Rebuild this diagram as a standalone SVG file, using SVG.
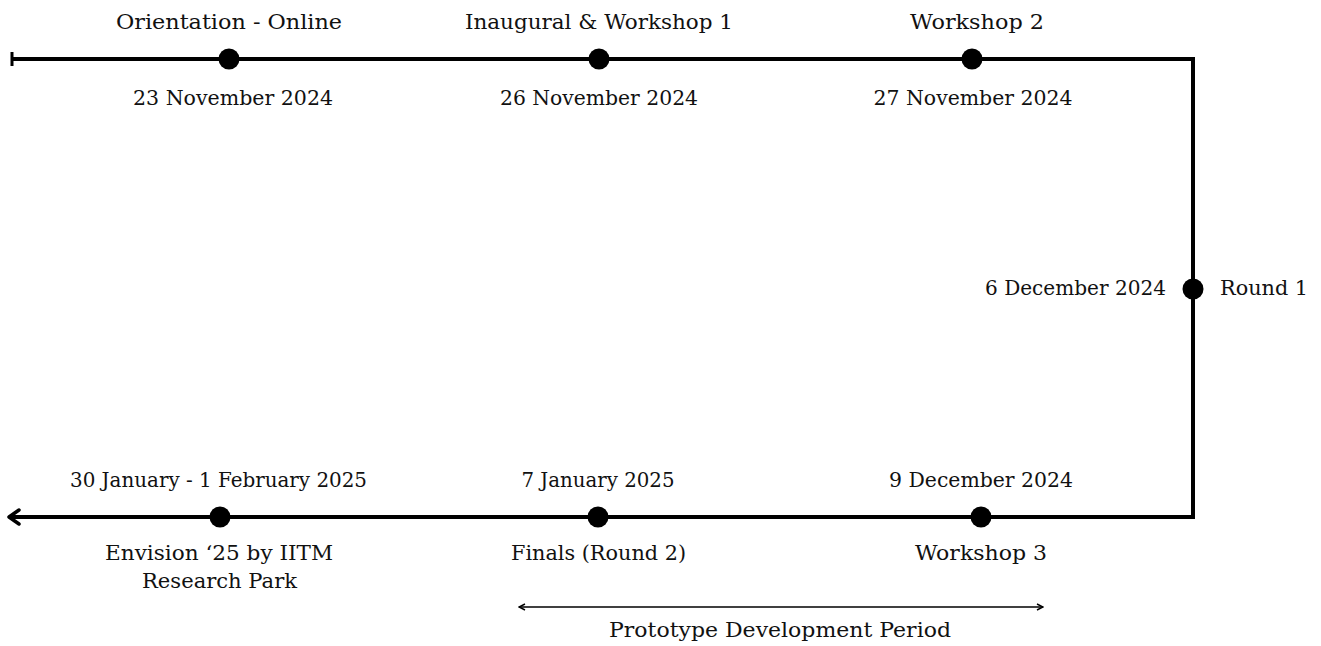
<svg xmlns="http://www.w3.org/2000/svg" width="1321" height="646" viewBox="0 0 1321 646">
<defs>
<style>
.t{font-family:"DejaVu Serif","Liberation Serif",serif;font-size:21px;fill:#111;}
.m{text-anchor:middle;}
.ln{stroke:#000;stroke-width:4;fill:none;}
.dot{fill:#000;}
</style>
<marker id="sm" viewBox="0 0 8 8" refX="7" refY="4" markerWidth="8" markerHeight="8" markerUnits="userSpaceOnUse" orient="auto-start-reverse">
<path d="M1,1 L7,4 L1,7" fill="none" stroke="#000" stroke-width="1.5"/>
</marker>
</defs>
<rect width="1321" height="646" fill="#fff"/>
<g id="connectors">
<path class="ln" d="M12,59 H1193 V517 H10"/>
<line x1="12" y1="52" x2="12" y2="66" stroke="#000" stroke-width="3"/>
<path d="M19,510 L9,517 L19,524" fill="none" stroke="#000" stroke-width="3.5" stroke-linecap="round" stroke-linejoin="round"/>
<line x1="519" y1="607" x2="1043" y2="607" stroke="#000" stroke-width="1.5" marker-start="url(#sm)" marker-end="url(#sm)"/>
</g>
<g id="n1"><circle class="dot" cx="229" cy="59" r="10.5"/><text class="t m" x="229" y="29" textLength="226" lengthAdjust="spacingAndGlyphs">Orientation - Online</text><text class="t m" x="233" y="105" textLength="200" lengthAdjust="spacingAndGlyphs">23 November 2024</text></g>
<g id="n2"><circle class="dot" cx="599" cy="59" r="10.5"/><text class="t m" x="599" y="29" textLength="268" lengthAdjust="spacingAndGlyphs">Inaugural &amp; Workshop 1</text><text class="t m" x="599" y="105" textLength="198" lengthAdjust="spacingAndGlyphs">26 November 2024</text></g>
<g id="n3"><circle class="dot" cx="972" cy="59" r="10.5"/><text class="t m" x="977" y="29" textLength="134" lengthAdjust="spacingAndGlyphs">Workshop 2</text><text class="t m" x="973" y="105" textLength="199" lengthAdjust="spacingAndGlyphs">27 November 2024</text></g>
<g id="n4"><circle class="dot" cx="1193" cy="289" r="10.5"/><text class="t" x="985" y="295" textLength="181" lengthAdjust="spacingAndGlyphs">6 December 2024</text><text class="t" x="1220" y="295" textLength="88" lengthAdjust="spacingAndGlyphs">Round 1</text></g>
<g id="n5"><circle class="dot" cx="981" cy="517" r="10.5"/><text class="t m" x="981" y="487" textLength="184" lengthAdjust="spacingAndGlyphs">9 December 2024</text><text class="t m" x="981" y="560" textLength="132" lengthAdjust="spacingAndGlyphs">Workshop 3</text></g>
<g id="n6"><circle class="dot" cx="598" cy="517" r="10.5"/><text class="t m" x="598" y="487" textLength="153" lengthAdjust="spacingAndGlyphs">7 January 2025</text><text class="t m" x="598.5" y="560" textLength="175" lengthAdjust="spacingAndGlyphs">Finals (Round 2)</text></g>
<g id="n7"><circle class="dot" cx="220" cy="517" r="10.5"/><text class="t m" x="218.5" y="487" textLength="297" lengthAdjust="spacingAndGlyphs">30 January - 1 February 2025</text><text class="t m" x="219" y="560" textLength="228" lengthAdjust="spacingAndGlyphs">Envision ‘25 by IITM</text><text class="t m" x="219.5" y="588" textLength="155" lengthAdjust="spacingAndGlyphs">Research Park</text></g>
<g id="n8"><text class="t m" x="780" y="637" textLength="342" lengthAdjust="spacingAndGlyphs">Prototype Development Period</text></g>
</svg>
